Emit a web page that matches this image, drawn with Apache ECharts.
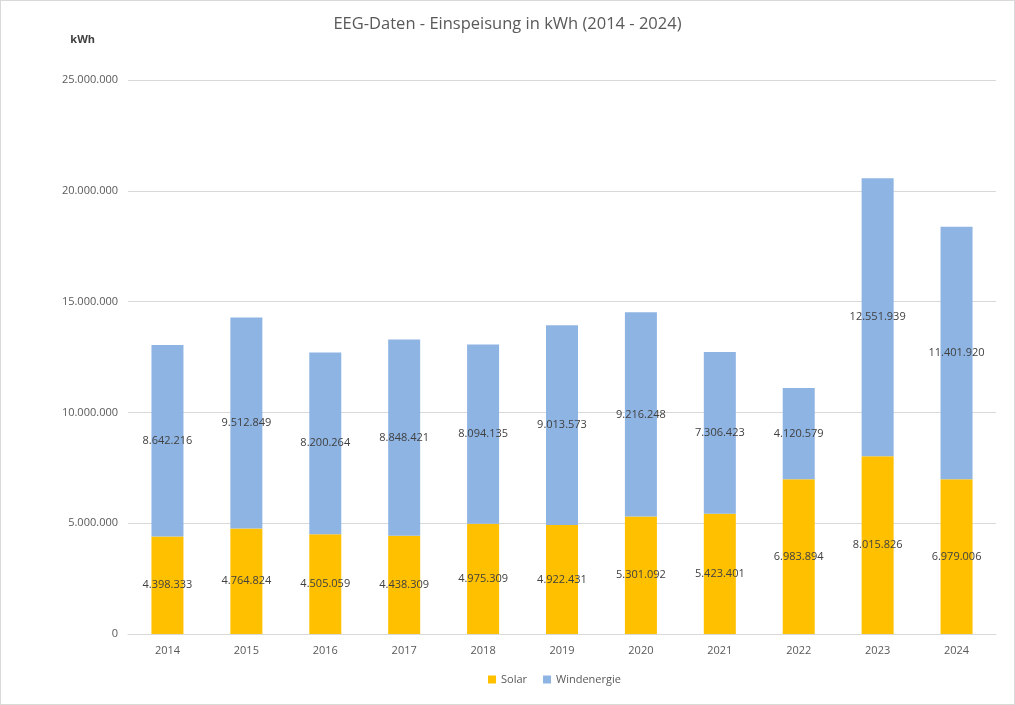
<!DOCTYPE html>
<html>
<head>
<meta charset="utf-8">
<script src="https://cdn.jsdelivr.net/npm/echarts@6/dist/echarts.min.js"></script>
<style>
  html, body { margin: 0; padding: 0; background: #fff; }
  #chart { width: 1013px; height: 703px; border: 1px solid #d9d9d9; }
</style>
</head>
<body>
<div id="chart"></div>
<script>
// data
const years = ['2014', '2015', '2016', '2017', '2018', '2019', '2020', '2021', '2022', '2023', '2024'];
const solar = [4398333, 4764824, 4505059, 4438309, 4975309, 4922431, 5301092, 5423401, 6983894, 8015826, 6979006];
const wind = [8642216, 9512849, 8200264, 8848421, 8094135, 9013573, 9216248, 7306423, 4120579, 12551939, 11401920];
const yTicks = [0, 5000000, 10000000, 15000000, 20000000, 25000000];

const fontFam = "'Open Sans', 'Noto Sans', sans-serif";

// german number format 1.234.567
function fmt(v) {
  return String(Math.round(v)).replace(/\B(?=(\d{3})+(?!\d))/g, '.');
}

const chart = echarts.init(document.getElementById('chart'));

const labelStyle = {
  show: true,
  position: 'inside',
  color: '#404040',
  fontSize: 11,
  fontFamily: fontFam,
  formatter: p => fmt(p.value)
};

chart.setOption({
  animation: false,
  title: {
    text: 'EEG-Daten - Einspeisung in kWh (2014 - 2024)',
    left: 'center',
    top: 10,
    textStyle: { color: '#595959', fontSize: 16.5, fontWeight: 'normal', fontFamily: fontFam }
  },
  legend: {
    top: 673,
    left: 487,
    padding: 0,
    itemWidth: 8,
    itemHeight: 8,
    itemGap: 16,
    icon: 'rect',
    textStyle: { color: '#595959', fontSize: 11, fontFamily: fontFam },
    data: ['Solar', 'Windenergie']
  },
  grid: { left: 127, right: 18, top: 79, bottom: 70 },
  xAxis: {
    type: 'category',
    data: years,
    axisTick: { show: false },
    axisLine: { lineStyle: { color: '#d9d9d9' } },
    axisLabel: { color: '#595959', fontSize: 11, fontFamily: fontFam, margin: 11 }
  },
  yAxis: {
    type: 'value',
    name: 'kWh',
    nameLocation: 'end',
    nameGap: 35,
    nameTextStyle: { color: '#404040', fontSize: 11, fontWeight: 'bold', fontFamily: fontFam, align: 'right', padding: [0, 33, 0, 0] },
    min: yTicks[0],
    max: yTicks[yTicks.length - 1],
    interval: 5000000,
    axisLine: { show: false },
    axisTick: { show: false },
    splitLine: { lineStyle: { color: '#d9d9d9' } },
    axisLabel: { color: '#595959', fontSize: 11, fontFamily: fontFam, margin: 10, formatter: v => fmt(v) }
  },
  series: [
    {
      name: 'Solar',
      type: 'bar',
      stack: 'total',
      barWidth: 32,
      itemStyle: { color: '#ffc000' },
      label: labelStyle,
      data: solar
    },
    {
      name: 'Windenergie',
      type: 'bar',
      stack: 'total',
      barWidth: 32,
      itemStyle: { color: '#8eb4e3' },
      label: labelStyle,
      data: wind
    }
  ]
});
</script>
</body>
</html>
